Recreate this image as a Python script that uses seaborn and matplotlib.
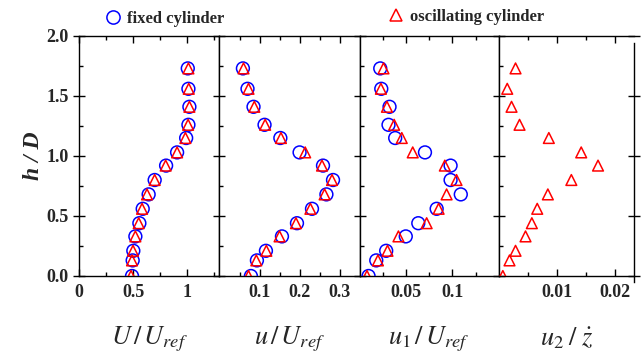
import matplotlib
matplotlib.use("Agg")
import matplotlib.pyplot as plt
import seaborn as sns
from matplotlib.ticker import FixedLocator
from matplotlib.lines import Line2D

# height above the bed, h/D
h_over_d = [0.0, 0.13, 0.21, 0.33, 0.44, 0.56, 0.68, 0.80, 0.92, 1.03, 1.15, 1.26, 1.41, 1.56, 1.73]

# mean streamwise velocity U/Uref
U_fixed = [0.489, 0.495, 0.501, 0.520, 0.557, 0.588, 0.643, 0.699, 0.805, 0.907, 0.991, 1.012, 1.021, 1.012, 1.006]
U_osc = [0.480, 0.489, 0.498, 0.520, 0.551, 0.582, 0.628, 0.699, 0.801, 0.907, 0.984, 1.009, 1.021, 1.015, 1.012]

# fluctuation u/Uref
u_fixed = [0.0785, 0.0935, 0.116, 0.156, 0.1935, 0.231, 0.267, 0.2835, 0.2585, 0.200, 0.152, 0.1125, 0.085, 0.070, 0.0585]
u_osc = [0.0725, 0.092, 0.117, 0.150, 0.191, 0.227, 0.2625, 0.281, 0.256, 0.214, 0.1535, 0.114, 0.087, 0.0725, 0.060]

# first component u1/Uref
u1_fixed = [0.0096, 0.0179, 0.0286, 0.0497, 0.0632, 0.083, 0.109, 0.098, 0.098, 0.0704, 0.0383, 0.0311, 0.0322, 0.0233, 0.0222]
u1_osc = [0.0079, 0.0197, 0.030, 0.0418, 0.0722, 0.0851, 0.0937, 0.1044, 0.0918, 0.0572, 0.0454, 0.0372, 0.0294, 0.0229, 0.0257]

# second component u2/zdot (oscillating cylinder only)
u2_osc = [0.00069, 0.00184, 0.00288, 0.0046, 0.00569, 0.00662, 0.00845, 0.0125, 0.0171, 0.0142, 0.00862, 0.00357, 0.00219, 0.00145, 0.00288]

x_labels = [r"$U\,/\,U_{ref}$", r"$u\,/\,U_{ref}$", r"$u_1\,/\,U_{ref}$", r"$u_2\;/\;\dot{z}$"]
x_limits = [(0, 1.3), (0, 0.35), (0, 0.15), (0, 0.0233)]
x_major = [[0, 0.5, 1.0], [0.1, 0.2, 0.3], [0.05, 0.1], [0.01, 0.02]]
x_major_labels = [["0", "0.5", "1"], ["0.1", "0.2", "0.3"], ["0.05", "0.1"], ["0.01", "0.02"]]
x_minor = [[0.25, 0.75, 1.25], [0.05, 0.15, 0.25], [0.025, 0.075, 0.125], [0.005, 0.015]]
y_major = [0.0, 0.5, 1.0, 1.5, 2.0]
y_major_labels = ["0.0", "0.5", "1.0", "1.5", "2.0"]
y_minor = [0.25, 0.75, 1.25, 1.75]

sns.set_theme(style="ticks")
plt.rcParams["font.family"] = ["Liberation Serif", "DejaVu Serif"]
plt.rcParams["mathtext.fontset"] = "stix"

fig = plt.figure(figsize=(6.41, 3.53), dpi=100)
gs = fig.add_gridspec(1, 4, width_ratios=[140, 140, 139, 135], wspace=0,
                      left=79.3 / 641, right=634 / 641, top=1 - 36 / 353, bottom=1 - 276 / 353)
axes = [fig.add_subplot(gs[0, i]) for i in range(4)]

blue = "#0000ff"
red = "#ff0000"
fixed_series = [U_fixed, u_fixed, u1_fixed, None]
osc_series = [U_osc, u_osc, u1_osc, u2_osc]

for i, ax in enumerate(axes):
    if fixed_series[i] is not None:
        sns.scatterplot(x=fixed_series[i], y=h_over_d, ax=ax, marker="o", s=85,
                        facecolor="none", edgecolor=blue, linewidth=1.1, zorder=3)
    sns.scatterplot(x=osc_series[i], y=h_over_d, ax=ax, marker="^", s=60,
                    facecolor="none", edgecolor=red, linewidth=1.1, zorder=4)
    ax.set_xlim(*x_limits[i])
    ax.set_ylim(0, 2.0)
    ax.xaxis.set_major_locator(FixedLocator(x_major[i]))
    ax.set_xticklabels(x_major_labels[i])
    ax.xaxis.set_minor_locator(FixedLocator(x_minor[i]))
    ax.yaxis.set_major_locator(FixedLocator(y_major))
    ax.yaxis.set_minor_locator(FixedLocator(y_minor))
    ax.tick_params(axis="x", which="major", direction="in", top=True, bottom=True,
                   length=5, width=1, pad=6, labelsize=13, color="black")
    ax.tick_params(axis="x", which="minor", direction="in", top=True, bottom=True,
                   length=3, width=1, color="black")
    ax.tick_params(axis="y", which="major", direction="inout", length=9, width=1,
                   pad=3, labelsize=13, color="black")
    ax.tick_params(axis="y", which="minor", direction="in", length=3, width=1, color="black")
    for lbl in ax.get_xticklabels():
        lbl.set_fontweight("bold")
    if i == 0:
        ax.set_yticklabels(y_major_labels)
        for lbl in ax.get_yticklabels():
            lbl.set_fontweight("bold")
        ax.set_ylabel("h / D", fontsize=17, fontweight="bold", fontstyle="italic", labelpad=2)
    else:
        ax.tick_params(axis="y", which="both", labelleft=False)
        ax.set_ylabel("")
    ax.set_xlabel(x_labels[i], fontsize=19, labelpad=17)
    for side in ["left", "bottom", "top", "right"]:
        ax.spines[side].set_visible(True)
        ax.spines[side].set_color("black")
        ax.spines[side].set_linewidth(1.0)
    ax.set_facecolor("white")

# right edge of the last panel carries its own ticks
axes[3].tick_params(axis="y", which="major", right=True, direction="inout", length=9)
axes[3].spines["right"].set_bounds(-0.05, 1.94)

leg_font = {"family": "Liberation Serif", "weight": "bold", "size": 12}
h_fixed = Line2D([], [], linestyle="none", marker="o", markersize=9.5,
                 markerfacecolor="none", markeredgecolor=blue, markeredgewidth=1.1)
h_osc = Line2D([], [], linestyle="none", marker="^", markersize=8,
               markerfacecolor="none", markeredgecolor=red, markeredgewidth=1.1)
fig.legend(handles=[h_fixed], labels=["fixed cylinder"], loc="center left",
           bbox_to_anchor=(105 / 641, 1 - 19 / 353), frameon=False, prop=leg_font,
           handlelength=1.0, handletextpad=0.3, borderpad=0, borderaxespad=0)
fig.legend(handles=[h_osc], labels=["oscillating cylinder"], loc="center left",
           bbox_to_anchor=(388 / 641, 1 - 17 / 353), frameon=False, prop=leg_font,
           handlelength=1.0, handletextpad=0.3, borderpad=0, borderaxespad=0)

fig.savefig("out.png", dpi=100, facecolor="white")
